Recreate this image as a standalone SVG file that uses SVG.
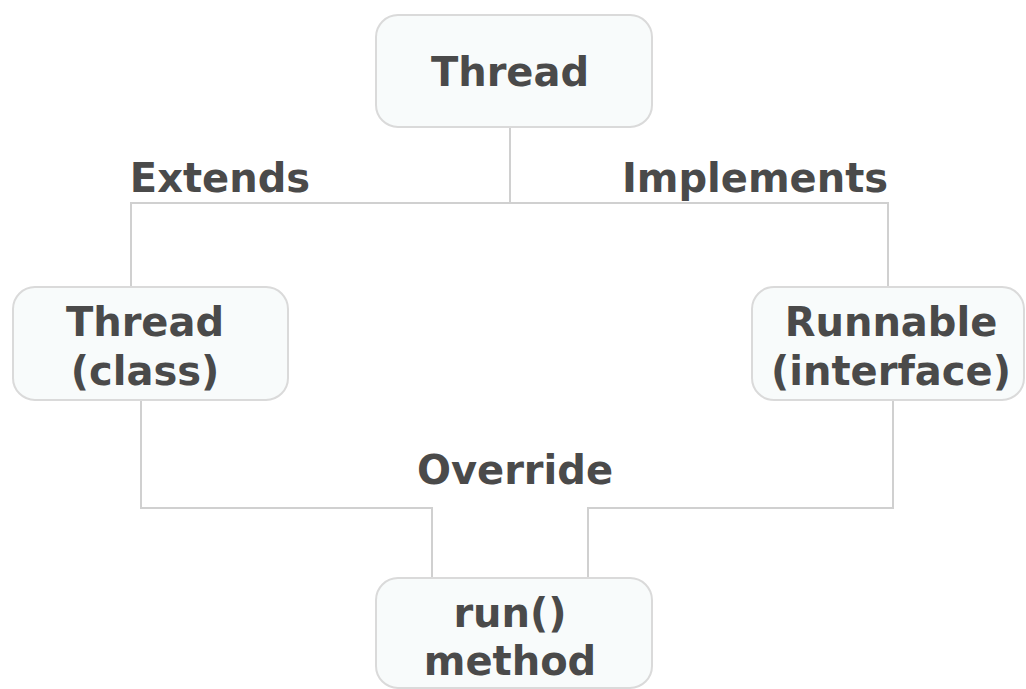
<svg xmlns="http://www.w3.org/2000/svg" width="1026" height="689" viewBox="0 0 1026 689">
<style>
.box{fill:#f8fbfb;stroke:#dadada;stroke-width:2}
.t{font-family:"DejaVu Sans",Verdana,sans-serif;font-weight:bold;font-size:40px;fill:#4a4a4a;text-anchor:middle}
.c{fill:none;stroke:#d0d0d0;stroke-width:2}
</style>
<rect width="1026" height="689" fill="#ffffff"/>
<g id="connectors">
<path class="c" d="M510 127 V203"/>
<path class="c" d="M131 288 V203 H888 V288"/>
<path class="c" d="M141 400 V508 H432 V578"/>
<path class="c" d="M893 400 V508 H588 V578"/>
</g>
<g id="labels">
<text class="t" x="220" y="192">Extends</text>
<text class="t" x="755" y="192">Implements</text>
<text class="t" x="515" y="484">Override</text>
</g>
<g id="thread">
<rect class="box" x="376" y="15" width="276" height="112" rx="22"/>
<text class="t" x="510" y="86">Thread</text>
</g>
<g id="thread-class">
<rect class="box" x="13" y="287" width="275" height="113" rx="22"/>
<text class="t" x="145" y="336">Thread</text>
<text class="t" x="145" y="385">(class)</text>
</g>
<g id="runnable">
<rect class="box" x="752" y="287" width="272" height="113" rx="22"/>
<text class="t" x="891" y="336">Runnable</text>
<text class="t" x="891" y="385">(interface)</text>
</g>
<g id="run-method">
<rect class="box" x="376" y="578" width="276" height="110" rx="22"/>
<text class="t" x="510" y="627">run()</text>
<text class="t" x="510" y="675">method</text>
</g>
</svg>
